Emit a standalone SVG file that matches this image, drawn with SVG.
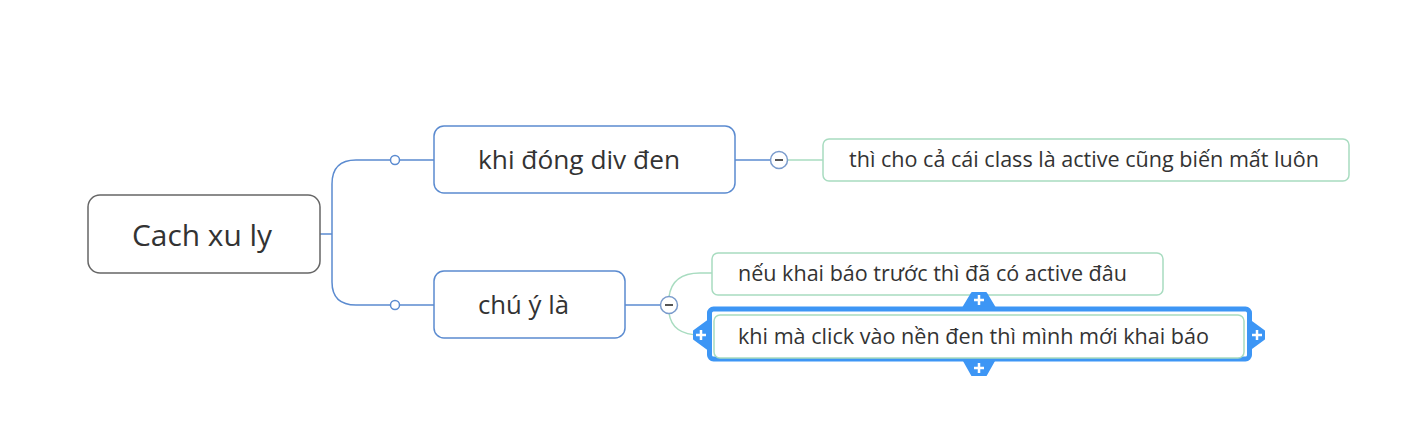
<svg xmlns="http://www.w3.org/2000/svg" width="1423" height="446" viewBox="0 0 1423 446">
<style>
text{font-family:"Open Sans","Noto Sans","DejaVu Sans",sans-serif;fill:#333;}
.root{fill:#fff;stroke:#666;stroke-width:1.5;}
.main{fill:#fff;stroke:#5b8bd0;stroke-width:1.5;}
.leaf{fill:#fff;stroke:#a8dcc0;stroke-width:1.5;}
.bl{fill:none;stroke:#5b8bd0;stroke-width:1.5;}
.gr{fill:none;stroke:#a8dcc0;stroke-width:1.5;}
.dot{fill:#fff;stroke:#5b8bd0;stroke-width:1.5;}
.col{fill:#fff;stroke:#7a9bcc;stroke-width:1.5;}
.minus{stroke:#555;stroke-width:2;}
.sel{fill:#fff;stroke:#3d96f5;stroke-width:5;}
.tab{fill:#3d96f5;stroke:#3d96f5;stroke-width:2;stroke-linejoin:round;}
.plus{stroke:#fff;stroke-width:2.5;}
</style>
<rect width="1423" height="446" fill="#fff"/>
<g id="connectors">
<path class="bl" d="M320,234 H332"/>
<path class="bl" d="M332,184 Q332,160 356,160 H390 M400,160 H434"/>
<path class="bl" d="M332,184 V282 Q332,305 356,305 H390 M400,305 H434"/>
<circle class="dot" cx="395" cy="160" r="4.5"/>
<circle class="dot" cx="395" cy="305" r="4.5"/>
<path class="bl" d="M735,160 H771"/>
<path class="gr" d="M787,160 H823"/>
<path class="bl" d="M625,305 H661"/>
<path class="gr" d="M669,297 Q672,273 700,273 H712"/>
<path class="gr" d="M669,313 Q672,335 700,335 H712"/>
</g>
<g id="root">
<rect class="root" x="88" y="195" width="232" height="78" rx="12"/>
<text x="132" y="246" font-size="29" textLength="140" lengthAdjust="spacingAndGlyphs">Cach xu ly</text>
</g>
<g id="n1">
<rect class="main" x="434" y="126" width="301" height="67" rx="10"/>
<text x="478" y="169" font-size="26" textLength="202" lengthAdjust="spacingAndGlyphs">khi đóng div đen</text>
</g>
<g id="c1">
<circle class="col" cx="779" cy="160" r="8.5"/>
<path class="minus" d="M775,160 H783"/>
</g>
<g id="n2">
<rect class="main" x="434" y="271" width="191" height="67" rx="10"/>
<text x="478" y="314" font-size="26" textLength="91" lengthAdjust="spacingAndGlyphs">chú ý là</text>
</g>
<g id="c2">
<circle class="col" cx="669" cy="305" r="8.5"/>
<path class="minus" d="M665,305 H673"/>
</g>
<g id="l1">
<rect class="leaf" x="823" y="139" width="526" height="42" rx="6"/>
<text x="849" y="167" font-size="21.5" textLength="470" lengthAdjust="spacingAndGlyphs">thì cho cả cái class là active cũng biến mất luôn</text>
</g>
<g id="l2">
<rect class="leaf" x="712" y="253" width="451" height="42" rx="6"/>
<text x="738" y="281" font-size="21.5" textLength="389" lengthAdjust="spacingAndGlyphs">nếu khai báo trước thì đã có active đâu</text>
</g>
<g id="l3">
<polygon class="tab" points="963,308 972,293 986,293 995,308"/>
<polygon class="tab" points="963,359 972,375 986,375 995,359"/>
<polygon class="tab" points="709,320 694,331 694,339 709,350"/>
<polygon class="tab" points="1249,320 1264,331 1264,339 1249,350"/>
<rect class="sel" x="709.5" y="309" width="540" height="50" rx="4"/>
<rect class="leaf" x="714" y="315" width="530" height="43" rx="6"/>
<path class="plus" d="M979,295 V305 M974,300 H984"/>
<path class="plus" d="M979,363 V373 M974,368 H984"/>
<path class="plus" d="M701,330 V340 M696,335 H706"/>
<path class="plus" d="M1257,330 V340 M1252,335 H1262"/>
<text x="738" y="344" font-size="21.5" textLength="471" lengthAdjust="spacingAndGlyphs">khi mà click vào nền đen thì mình mới khai báo</text>
</g>
</svg>
